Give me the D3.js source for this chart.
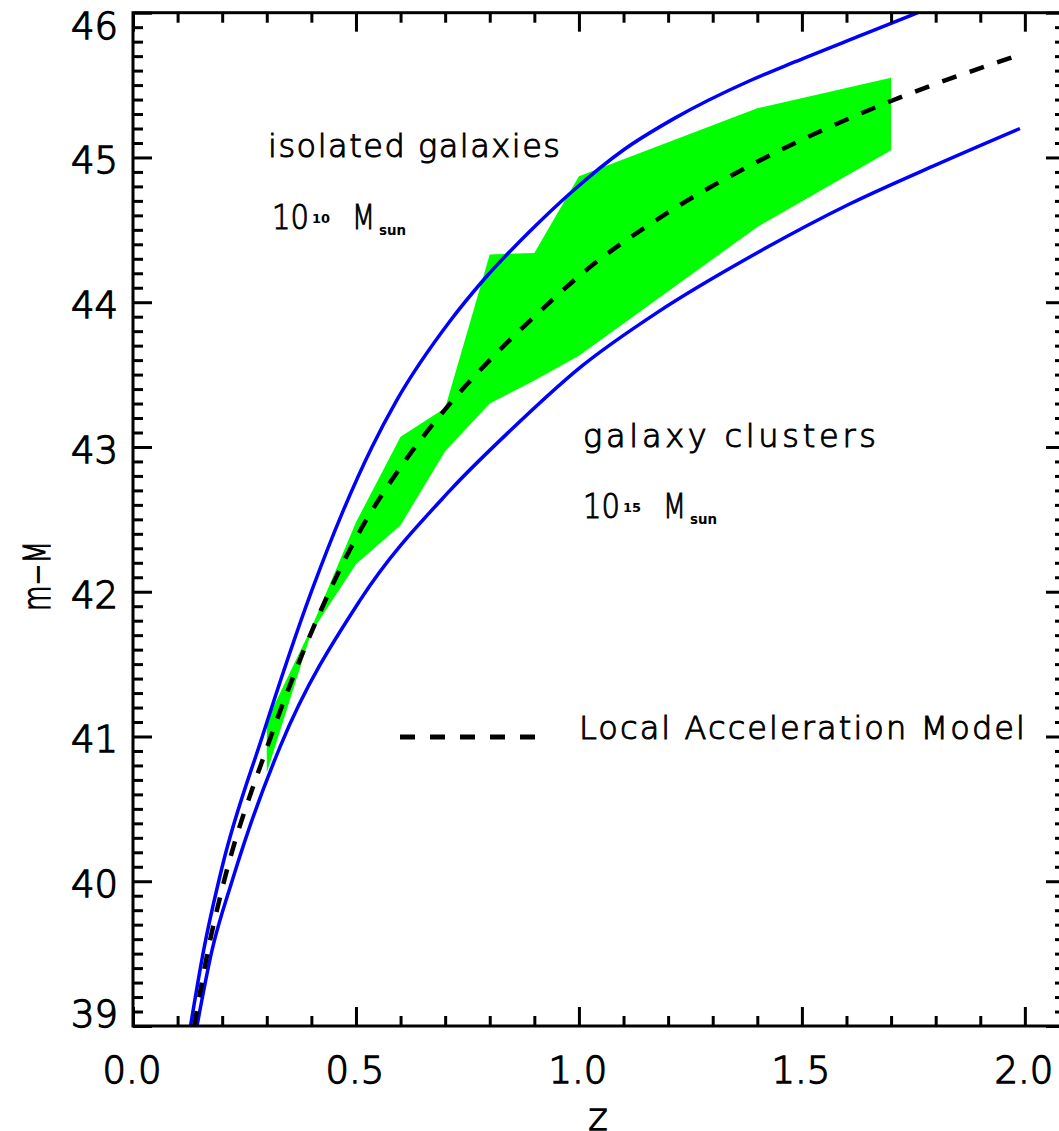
<!DOCTYPE html>
<html>
<head>
<meta charset="utf-8">
<script src="https://cdn.jsdelivr.net/npm/d3@7"></script>
<style>
  html, body { margin: 0; padding: 0; background: #fff; }
  svg { display: block; }
  text { font-family: "DejaVu Sans", "Liberation Sans", sans-serif; fill: #000; }
  .lbl { font-weight: 300; stroke: #000; stroke-width: 1.3px; }
  .ann { font-weight: 300; stroke: #000; stroke-width: 1.0px; }
</style>
</head>
<body>
<div id="chart"></div>
<script>
// ---------------- data ----------------
// Upper blue curve: isolated galaxies, 10^10 Msun
const isoZ = [0.129, 0.157, 0.2, 0.29, 0.40, 0.47, 0.536, 0.591, 0.711, 0.785, 0.89, 0.983, 1.099, 1.214, 1.383, 1.484, 1.638, 1.76];
const isoM = [39.0, 39.5, 40.1, 41.0, 42.0, 42.55, 43.0, 43.32, 43.87, 44.15, 44.49, 44.76, 45.05, 45.27, 45.53, 45.66, 45.85, 46.0];

// Lower blue curve: galaxy clusters, 10^15 Msun
const cluZ = [0.1435, 0.177, 0.222, 0.25, 0.33, 0.509, 0.711, 0.845, 1.007, 1.176, 1.399, 1.608, 1.794, 1.989];
const cluM = [39.0, 39.52, 40.0, 40.27, 40.93, 41.94, 42.70, 43.11, 43.56, 43.93, 44.34, 44.68, 44.94, 45.20];

// Dashed black curve: Local Acceleration Model
const lamZ = [0.1375, 0.168, 0.2, 0.3, 0.4, 0.5, 0.6, 0.7, 0.8, 0.9, 1.0, 1.2, 1.4, 1.7, 1.99];
const lamM = [39.0, 39.52, 39.95, 40.92, 41.72, 42.37, 42.86, 43.26, 43.60, 43.90, 44.18, 44.62, 44.97, 45.39, 45.71];

// Green band (upper and lower edges)
const bandZ  = [0.3, 0.4, 0.5, 0.6, 0.7, 0.8, 0.9, 1.0, 1.4, 1.7];
const bandHi = [41.11, 41.75, 42.48, 43.07, 43.27, 44.33, 44.34, 44.87, 45.34, 45.55];
const bandLo = [40.75, 41.72, 42.19, 42.46, 42.97, 43.30, 43.46, 43.63, 44.52, 45.05];

// Ticks
const xMajor = [0, 0.5, 1.0, 1.5, 2.0];
const xTickLabels = ["0.0", "0.5", "1.0", "1.5", "2.0"];
const yMajor = [39, 40, 41, 42, 43, 44, 45, 46];
const yTickLabels = ["39", "40", "41", "42", "43", "44", "45", "46"];

// Texts
const xTitle = "z";
const yTitle = "m\u2212M";
const legendLabel = "Local Acceleration Model";

// ---------------- drawing ----------------
const W = 1059, H = 1131;
const L = 133, R = 1065, T = 12.7, B = 1026;

const svg = d3.select("#chart").append("svg")
  .attr("width", W).attr("height", H).attr("viewBox", `0 0 ${W} ${H}`);

const x = d3.scaleLinear().domain([0, 2.09]).range([L, R]);
const y = d3.scaleLinear().domain([39, 46]).range([B, T]);

svg.append("defs").append("clipPath").attr("id", "plotclip")
  .append("rect").attr("x", L).attr("y", T).attr("width", R - L).attr("height", B - T);

const plot = svg.append("g").attr("clip-path", "url(#plotclip)");

// green band
const bandPts = bandZ.map((z, i) => [z, bandLo[i]])
  .concat(bandZ.map((z, i) => [z, bandHi[i]]).reverse());
plot.append("path")
  .attr("d", d3.line().x(d => x(d[0])).y(d => y(d[1])).curve(d3.curveLinearClosed)(bandPts))
  .attr("fill", "#00ff00").attr("stroke", "none");

const curve = d3.line().x(d => x(d[0])).y(d => y(d[1])).curve(d3.curveMonotoneX);

plot.append("path")
  .attr("d", curve(isoZ.map((z, i) => [z, isoM[i]])))
  .attr("fill", "none").attr("stroke", "#0000ff").attr("stroke-width", 3.5);

plot.append("path")
  .attr("d", curve(cluZ.map((z, i) => [z, cluM[i]])))
  .attr("fill", "none").attr("stroke", "#0000ff").attr("stroke-width", 3.5);

plot.append("path")
  .attr("d", curve(lamZ.map((z, i) => [z, lamM[i]])))
  .attr("fill", "none").attr("stroke", "#000").attr("stroke-width", 4.5)
  .attr("stroke-dasharray", "15,14");

// ---------------- axes ----------------
const xMinor = d3.range(0, 2.091, 0.1).filter(v => xMajor.every(m => Math.abs(m - v) > 1e-6));
const yMinor = d3.range(39, 46.001, 0.1).filter(v => yMajor.every(m => Math.abs(m - v) > 1e-6));

function styleAxis(g) {
  g.select(".domain").remove();
  g.selectAll(".tick line").attr("stroke", "#000").attr("stroke-width", 3);
  g.selectAll(".tick text").remove();
}
const MAJ = 19, MIN = 10;

// bottom
svg.append("g").attr("transform", `translate(0,${B})`)
  .call(d3.axisBottom(x).tickValues(xMajor).tickSize(-MAJ).tickFormat("")).call(styleAxis);
svg.append("g").attr("transform", `translate(0,${B})`)
  .call(d3.axisBottom(x).tickValues(xMinor).tickSize(-MIN).tickFormat("")).call(styleAxis);
// top
svg.append("g").attr("transform", `translate(0,${T})`)
  .call(d3.axisTop(x).tickValues(xMajor).tickSize(-MAJ).tickFormat("")).call(styleAxis);
svg.append("g").attr("transform", `translate(0,${T})`)
  .call(d3.axisTop(x).tickValues(xMinor).tickSize(-MIN).tickFormat("")).call(styleAxis);
// left
svg.append("g").attr("transform", `translate(${L},0)`)
  .call(d3.axisLeft(y).tickValues(yMajor).tickSize(-MAJ).tickFormat("")).call(styleAxis);
svg.append("g").attr("transform", `translate(${L},0)`)
  .call(d3.axisLeft(y).tickValues(yMinor).tickSize(-MIN).tickFormat("")).call(styleAxis);
// right (sits just beyond the window edge)
svg.append("g").attr("transform", `translate(${R},0)`)
  .call(d3.axisRight(y).tickValues(yMajor).tickSize(-MAJ).tickFormat("")).call(styleAxis);
svg.append("g").attr("transform", `translate(${R},0)`)
  .call(d3.axisRight(y).tickValues(yMinor).tickSize(-MIN).tickFormat("")).call(styleAxis);

// frame
svg.append("rect").attr("x", L).attr("y", T).attr("width", R - L).attr("height", B - T)
  .attr("fill", "none").attr("stroke", "#000").attr("stroke-width", 3);

// tick labels
svg.append("g").selectAll("text").data(xMajor).join("text").attr("class", "lbl")
  .attr("x", d => x(d) - 1).attr("y", B + 57)
  .attr("text-anchor", "middle").attr("font-size", 37)
  .text((d, i) => xTickLabels[i]);

svg.append("g").selectAll("text").data(yMajor).join("text").attr("class", "lbl")
  .attr("x", 118).attr("y", d => Math.min(Math.max(y(d) + 16, T + 26.5), B + 1))
  .attr("text-anchor", "end").attr("font-size", 37)
  .text((d, i) => yTickLabels[i]);

// axis titles
svg.append("text").attr("class", "lbl").attr("x", 598).attr("y", 1130)
  .attr("text-anchor", "middle").attr("font-size", 37).text(xTitle);
svg.append("text").attr("class", "lbl")
  .attr("transform", "translate(50,576) rotate(-90)")
  .attr("text-anchor", "middle").attr("font-size", 37)
  .attr("textLength", 70).attr("lengthAdjust", "spacingAndGlyphs")
  .text(yTitle);

// ---------------- annotations ----------------
function massLabel(x0, base, exp) {
  const g = svg.append("g");
  g.append("text").attr("class", "ann").attr("x", x0).attr("y", base).attr("font-size", 33)
    .attr("textLength", 37).attr("lengthAdjust", "spacingAndGlyphs").text("10");
  g.append("text").attr("x", x0 + 40).attr("y", base - 6).attr("font-size", 12)
    .attr("font-weight", "bold").attr("textLength", 18).attr("lengthAdjust", "spacingAndGlyphs").text(exp);
  g.append("text").attr("class", "ann").attr("x", x0 + 80).attr("y", base).attr("font-size", 33)
    .attr("textLength", 23).attr("lengthAdjust", "spacingAndGlyphs").text("M");
  g.append("text").attr("x", x0 + 107).attr("y", base + 6).attr("font-size", 14)
    .attr("font-weight", "bold").attr("textLength", 27).attr("lengthAdjust", "spacingAndGlyphs").text("sun");
}

svg.append("text").attr("class", "ann").attr("x", 268).attr("y", 157).attr("font-size", 32)
  .attr("textLength", 292).attr("lengthAdjust", "spacing").text("isolated galaxies");
massLabel(272, 229, "10");

svg.append("text").attr("class", "ann").attr("x", 583).attr("y", 447).attr("font-size", 32)
  .attr("textLength", 293).attr("lengthAdjust", "spacing").text("galaxy clusters");
massLabel(583, 518, "15");

// legend
svg.append("line").attr("x1", 400).attr("x2", 535).attr("y1", 737).attr("y2", 737)
  .attr("stroke", "#000").attr("stroke-width", 5).attr("stroke-dasharray", "15,15");
svg.append("text").attr("class", "ann").attr("x", 579).attr("y", 739).attr("font-size", 32)
  .attr("textLength", 446).attr("lengthAdjust", "spacing").text(legendLabel);
</script>
</body>
</html>
